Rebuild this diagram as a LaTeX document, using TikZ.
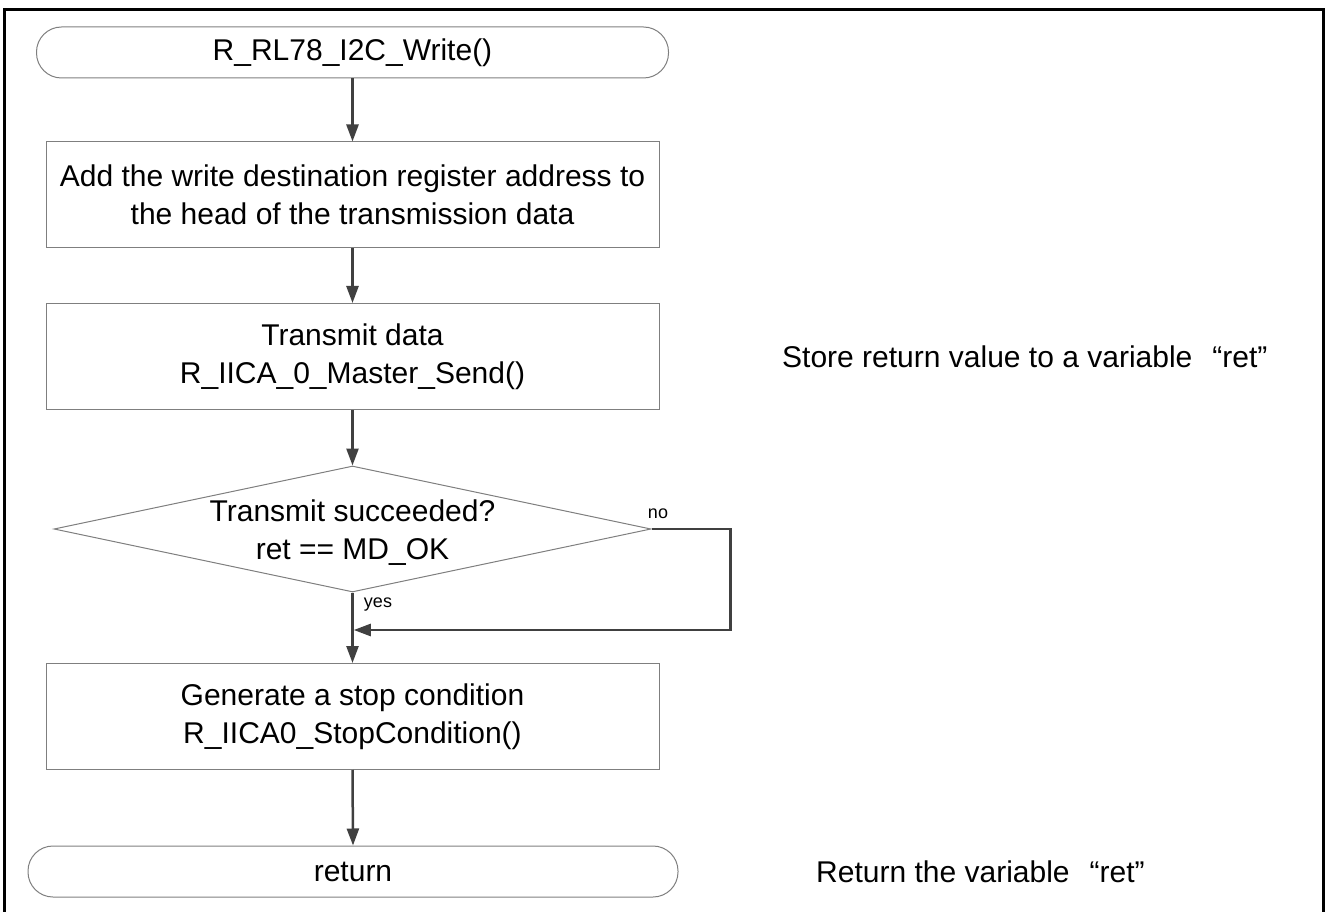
\documentclass[tikz,border=0pt]{standalone}
\usepackage{fontspec}
\setmainfont{Liberation Sans}
\usetikzlibrary{arrows.meta,shapes.geometric}
\definecolor{boxgray}{HTML}{7F7F7F}
\definecolor{arrowgray}{HTML}{404040}
\newcommand\mybig{\fontsize{30}{38}\selectfont}
\newcommand\mysmall{\fontsize{18}{22}\selectfont}
\newcommand\wlq{\makebox[1em][r]{“}}
\newcommand\wrq{\makebox[1em][l]{”}}
\begin{document}
\begin{tikzpicture}[x=1pt,y=-1pt,
  term/.style={draw=boxgray, line width=1pt, rounded corners=25pt, minimum height=51pt, inner sep=0pt, font=\mybig},
  proc/.style={draw=boxgray, line width=1pt, minimum width=613pt, minimum height=106pt, inner sep=0pt, align=center, font=\mybig},
  decbox/.style={draw=boxgray, line width=1pt, diamond, minimum width=597pt, minimum height=126pt, inner sep=0pt},
  flow/.style={draw=arrowgray, line width=2.5pt, -{Triangle[length=17pt,width=12pt]}},
  lbl/.style={font=\mysmall, inner sep=0pt},
  note/.style={font=\mybig, anchor=west, inner sep=0pt}]
\useasboundingbox (0,0) rectangle (1326,912);
\draw[line width=3pt] (4,10) rectangle (1323,925);

\node[term, minimum width=632pt] (start) at (352.5,52.5) {R\_RL78\_I2C\_Write()};
\node[proc] (b1) at (352.5,195) {Add the write destination register address to\\the head of the transmission data};
\node[proc] (b2) at (352.5,356.5) {Transmit data\\R\_IICA\_0\_Master\_Send()};
\node[decbox] (dec) at (352.5,529) {};
\node[font=\mybig, align=center, inner sep=0pt] (dectext) at (352.5,533) {Transmit succeeded?\\ret == MD\_OK};
\node[proc] (b3) at (352.5,716.5) {Generate a stop condition\\R\_IICA0\_StopCondition()};
\node[term, minimum width=650pt] (ret) at (353,871.5) {return};

\coordinate (j) at (352.5,630);

\draw[flow] (start.south) -- (b1.north);
\draw[flow] (b1.south) -- (b2.north);
\draw[flow] (b2.south) -- (dec.north);
\draw[flow] (dec.south) -- (b3.north);
\draw[flow, shorten >=1.25pt] (dec.east) -- ++(79,0) |- (j);
\draw[flow] (b3.south) -- (ret.north);

\node[lbl] (no) at (658,514) {no};
\node[lbl] (yes) at (378,605) {yes};

\node[note] (n1) at (782,357) {Store return value to a variable\wlq ret\wrq};
\node[note] (n2) at (816,872) {Return the variable\wlq ret\wrq};
\end{tikzpicture}
\end{document}
